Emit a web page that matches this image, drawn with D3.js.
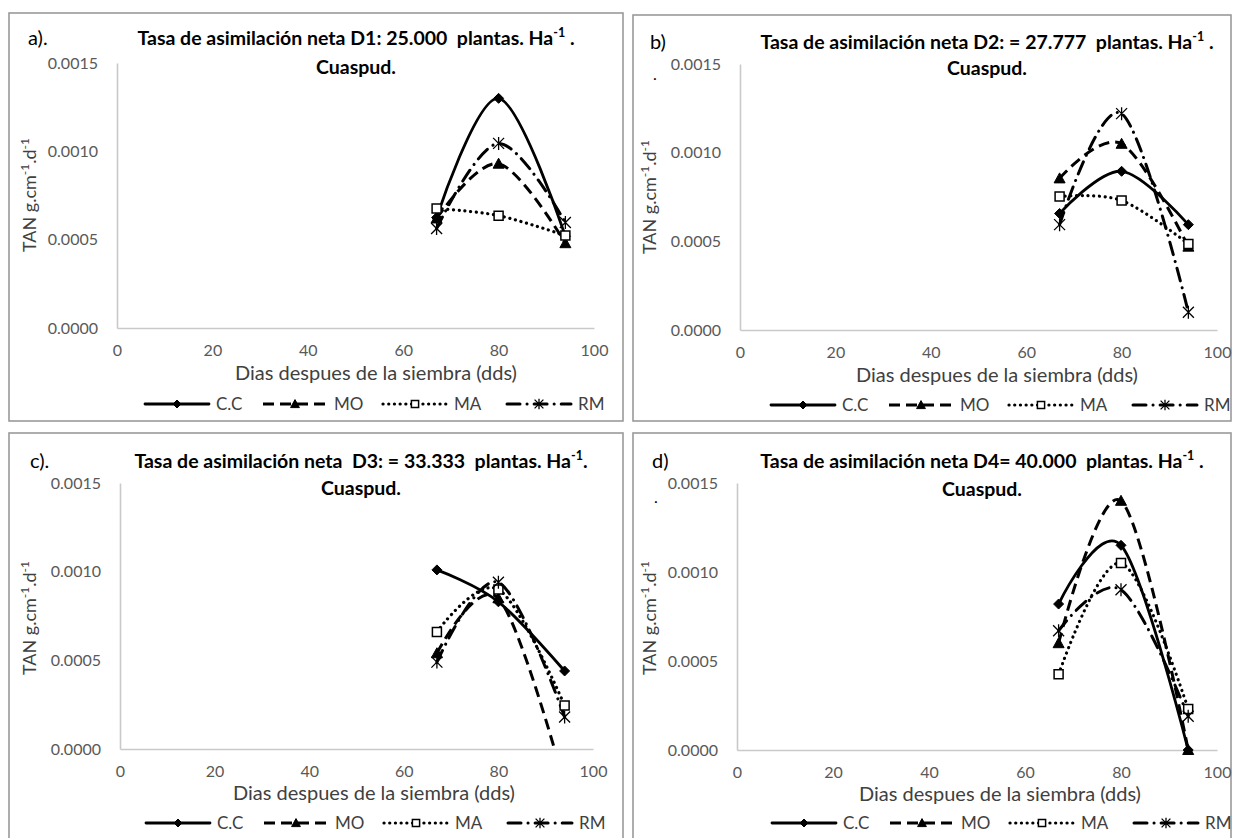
<!DOCTYPE html>
<html><head><meta charset="utf-8">
<script src="https://cdn.jsdelivr.net/npm/d3@7"></script>
<style>
body{margin:0;background:#fff;}
svg{display:block;font-family:Lato,"Noto Sans",sans-serif;}
text{white-space:pre;}
</style></head><body>
<svg id="chart" width="1234" height="838"></svg>
<script>
// ---------- data ----------
const days = [67, 80, 94];
const seriesNames = ["C.C", "MO", "MA", "RM"];
const xTicks = [0, 20, 40, 60, 80, 100];
const yTicks = [0, 0.0005, 0.0010, 0.0015];
const panelLabels = ["a).", "b)", "c).", "d)"];
const titlesLine1 = [
  "Tasa de asimilación neta D1: 25.000  plantas. Ha",
  "Tasa de asimilación neta D2: = 27.777  plantas. Ha",
  "Tasa de asimilación neta  D3: = 33.333  plantas. Ha",
  "Tasa de asimilación neta D4= 40.000  plantas. Ha"
];
const titlesLine1End = [" .", " .", ".", " ."];
const titleLine2 = "Cuaspud.";
const xTitle = "Dias despues de la siembra (dds)";

// TAN values per density: rows = C.C, MO, MA, RM ; columns = days
const tanD1 = [
  [0.000625, 0.00130, 0.00052],
  [0.00062, 0.00093, 0.00048],
  [0.000676, 0.000636, 0.000523],
  [0.000563, 0.001045, 0.000597]
];
const tanD2 = [
  [0.000657, 0.000895, 0.000594],
  [0.000855, 0.00105, 0.00047],
  [0.000753, 0.00073, 0.000485],
  [0.000594, 0.00122, 0.0001]
];
const tanD3 = [
  [0.00101, 0.00083, 0.00044],
  [0.00054, 0.00085, -0.0002],
  [0.00066, 0.0009, 0.000245],
  [0.00049, 0.00094, 0.00018]
];
const tanD4 = [
  [0.00082, 0.00115, 0.0],
  [0.0006, 0.0014, 0.0],
  [0.000425, 0.00105, 0.00023],
  [0.00067, 0.0009, 0.00019]
];

// ---------- layout / styles ----------
const layout = [
  {data: tanD1, border:[9,13,623,421], plot:[117,594,328,63], lab:[28,45], tc:356, tb:[45,74], yl:[30,195], dot:null, xt:[376,380], leg:[145,404]},
  {data: tanD2, border:[633,15,1231,421], plot:[740,1217,330,64], lab:[650,49], tc:987, tb:[49,75], yl:[650,197], dot:[653,80], xt:[997,382], leg:[771,405]},
  {data: tanD3, border:[9,433,623,845], plot:[120,593,749,483], lab:[30,468], tc:361, tb:[468,495], yl:[30,618], dot:null, xt:[374,800], leg:[146,823]},
  {data: tanD4, border:[633,433,1231,845], plot:[737,1217,750,483], lab:[652,468], tc:982, tb:[468,496], yl:[650,618], dot:[654,503], xt:[1000,801], leg:[772,823]}
];
const styles = [
  {dash:null, cap:"round", w:2.8, marker:"diamond"},
  {dash:"11,6", cap:"butt", w:3, marker:"triangle"},
  {dash:"0.1,5.6", cap:"round", w:3.2, marker:"square"},
  {dash:"13,7,0.1,7", cap:"round", w:3, marker:"star"}
];
function markerPath(kind, s){
  if(kind==="diamond") return `M0,${-5*s}L${5*s},0L0,${5*s}L${-5*s},0Z`;
  if(kind==="triangle") return `M0,${-5.5*s}L${5.5*s},${4.5*s}L${-5.5*s},${4.5*s}Z`;
  if(kind==="square") return `M${-4.5*s},${-4.5*s}h${9*s}v${9*s}h${-9*s}Z`;
  return `M${-5.5*s},${-5.5*s}L${5.5*s},${5.5*s}M${-5.5*s},${5.5*s}L${5.5*s},${-5.5*s}M0,${-6.5*s}L0,${6.5*s}`;
}
function drawMarker(g, kind, x, y, s){
  const p = g.append("path").attr("d", markerPath(kind, s)).attr("transform", `translate(${x},${y})`);
  if(kind==="square") p.attr("fill","#fff").attr("stroke","#000").attr("stroke-width",1.5);
  else if(kind==="star") p.attr("fill","none").attr("stroke","#000").attr("stroke-width",1.3);
  else p.attr("fill","#000").attr("stroke","#000").attr("stroke-width",1);
}

const svg = d3.select("#chart");
svg.append("rect").attr("width",1234).attr("height",838).attr("fill","#fff");

layout.forEach((P, pi) => {
  const g = svg.append("g");
  const [bx0,by0,bx1,by1] = P.border;
  g.append("rect").attr("x",bx0).attr("y",by0).attr("width",bx1-bx0).attr("height",by1-by0)
    .attr("fill","none").attr("stroke","#9a9a9a").attr("stroke-width",1.6);

  const [px0,px1,py0,py1] = P.plot;
  const x = d3.scaleLinear().domain([0,100]).range([px0,px1]);
  const y = d3.scaleLinear().domain([0,0.0015]).range([py0,py1]);

  // axes
  const xa = g.append("g").attr("transform",`translate(0,${py0})`)
    .call(d3.axisBottom(x).tickValues(xTicks).tickSize(0).tickSizeOuter(0).tickPadding(17));
  const ya = g.append("g").attr("transform",`translate(${px0},0)`)
    .call(d3.axisLeft(y).tickValues(yTicks).tickFormat(d3.format(".4f")).tickSize(0).tickSizeOuter(0).tickPadding(19));
  [xa,ya].forEach(a=>{
    a.select(".domain").attr("stroke","#c9c9c9").attr("stroke-width",1.6);
    a.selectAll("text").attr("font-family","Lato").attr("font-size",16).attr("fill","#595959");
  });

  // clip
  const cid = "clip"+pi;
  svg.append("clipPath").attr("id",cid).append("rect")
    .attr("x",px0).attr("y",py1-10).attr("width",px1-px0+10).attr("height",py0-py1+10);

  const line = d3.line().x((d,i)=>x(days[i])).y(d=>y(d)).curve(d3.curveCardinal.tension(0));
  const plotG = g.append("g");
  P.data.forEach((vals, si) => {
    const st = styles[si];
    plotG.append("path").attr("d", line(vals)).attr("clip-path",`url(#${cid})`)
      .attr("fill","none").attr("stroke","#000").attr("stroke-width",st.w)
      .attr("stroke-linecap",st.cap).attr("stroke-linejoin","round")
      .attr("stroke-dasharray",st.dash);
  });
  P.data.forEach((vals, si) => {
    vals.forEach((v,i)=>{
      if(v>=0 && v<=0.0015) drawMarker(plotG, styles[si].marker, x(days[i]), y(v), 1);
    });
  });

  // panel label
  g.append("text").attr("x",P.lab[0]).attr("y",P.lab[1]).attr("font-size",20).attr("fill","#000").text(panelLabels[pi]);
  // title
  const t1 = g.append("text").attr("x",P.tc).attr("y",P.tb[0]).attr("text-anchor","middle")
    .attr("font-size",19.5).attr("font-weight","bold").attr("fill","#000");
  t1.append("tspan").text(titlesLine1[pi]);
  t1.append("tspan").attr("dy",-8).attr("font-size",12.5).text("-1");
  t1.append("tspan").attr("dy",8).text(titlesLine1End[pi]);
  g.append("text").attr("x",P.tc).attr("y",P.tb[1]).attr("text-anchor","middle")
    .attr("font-size",19.5).attr("font-weight","bold").attr("fill","#000").text(titleLine2);
  // y title
  const yt = g.append("text").attr("transform",`translate(${P.yl[0]+6},${P.yl[1]}) rotate(-90)`)
    .attr("text-anchor","middle").attr("font-size",18).attr("fill","#404040");
  yt.append("tspan").text("TAN g.cm");
  yt.append("tspan").attr("dy",-7).attr("font-size",12).text("-1");
  yt.append("tspan").attr("dy",7).text(".d");
  yt.append("tspan").attr("dy",-7).attr("font-size",12).text("-1");
  if(P.dot) g.append("text").attr("x",P.dot[0]).attr("y",P.dot[1]).attr("font-size",16).attr("fill","#000").text(".");
  // x title
  g.append("text").attr("x",P.xt[0]).attr("y",P.xt[1]).attr("text-anchor","middle")
    .attr("font-size",20).attr("fill","#404040").text(xTitle);

  // legend
  const offs = [0,118,238,362];
  seriesNames.forEach((name, si)=>{
    const st = styles[si];
    const lx = P.leg[0] + offs[si], ly = P.leg[1];
    g.append("line").attr("x1",lx).attr("x2",lx+64).attr("y1",ly).attr("y2",ly)
      .attr("stroke","#000").attr("stroke-width",st.w).attr("stroke-linecap",st.cap)
      .attr("stroke-dasharray",st.dash);
    drawMarker(g, st.marker, lx+32, ly, 0.8);
    g.append("text").attr("x",lx+71).attr("y",ly+6).attr("font-size",17).attr("fill","#404040").text(name);
  });
});
</script>
</body></html>
